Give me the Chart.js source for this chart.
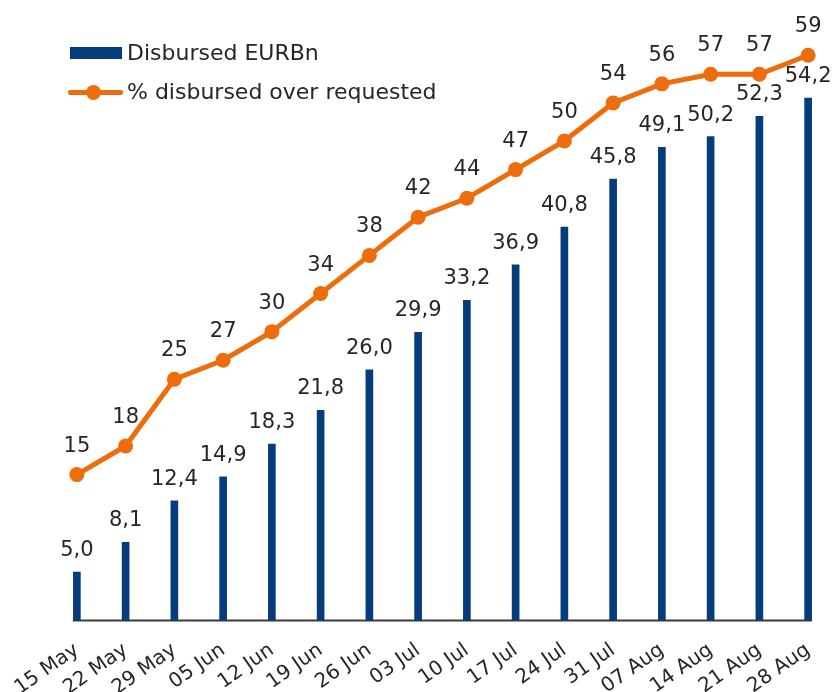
<!DOCTYPE html>
<html>
<head>
<meta charset="utf-8">
<script src="https://cdn.jsdelivr.net/npm/chart.js@4.4.1/dist/chart.umd.min.js"></script>
<style>
  html, body { margin: 0; padding: 0; background: #fff; }
  #wrap { position: relative; width: 840px; height: 692px; }
  #legend { position: absolute; left: 68px; top: 38px; font-family: "DejaVu Sans", sans-serif; font-size: 22px; color: #262626; }
  .row { position: relative; height: 39px; line-height: 30px; padding-left: 59px; white-space: nowrap; }
  .box { position: absolute; left: 2px; top: 9px; width: 52px; height: 12px; background: #043c7c; }
  .ln { position: absolute; left: 0; top: 13px; width: 55px; height: 5px; background: #ed6c0c; border-radius: 2px; }
  .dot { position: absolute; left: 18px; top: 8px; width: 15px; height: 15px; border-radius: 50%; background: #ed6c0c; }
</style>
</head>
<body>
<div id="wrap">
  <canvas id="chart" width="840" height="692"></canvas>
  <div id="legend">
    <div class="row"><span class="box"></span>Disbursed EURBn</div>
    <div class="row"><span class="ln"></span><span class="dot"></span>% disbursed over requested</div>
  </div>
</div>
<script>
const weeks = ['15 May', '22 May', '29 May', '05 Jun', '12 Jun', '19 Jun', '26 Jun', '03 Jul',
               '10 Jul', '17 Jul', '24 Jul', '31 Jul', '07 Aug', '14 Aug', '21 Aug', '28 Aug'];
const disbursed = [5.0, 8.1, 12.4, 14.9, 18.3, 21.8, 26.0, 29.9, 33.2, 36.9, 40.8, 45.8, 49.1, 50.2, 52.3, 54.2];
const pctRequested = [15, 18, 25, 27, 30, 34, 38, 42, 44, 47, 50, 54, 56, 57, 57, 59];

const NAVY = '#043c7c';
const ORANGE = '#ed6c0c';
const TEXT = '#262626';
const FONT = '"DejaVu Sans", sans-serif';

// value labels above bars and points
const valueLabels = {
  id: 'valueLabels',
  afterDatasetsDraw(chart) {
    const ctx = chart.ctx;
    ctx.save();
    ctx.fillStyle = TEXT;
    ctx.font = '21px ' + FONT;
    ctx.textAlign = 'center';
    ctx.textBaseline = 'alphabetic';
    chart.data.datasets.forEach((ds, i) => {
      const meta = chart.getDatasetMeta(i);
      meta.data.forEach((el, j) => {
        const v = ds.data[j];
        if (ds.type === 'line') {
          ctx.fillText(String(v), el.x, el.y - 23);
        } else {
          ctx.fillText(v.toFixed(1).replace('.', ','), el.x, el.y - 16);
        }
      });
    });
    ctx.restore();
  }
};

// baseline under the bars, from first bar to last bar
const baseLine = {
  id: 'baseLine',
  beforeDatasetsDraw(chart) {
    const bars = chart.getDatasetMeta(1).data;
    if (!bars.length) return;
    const ctx = chart.ctx;
    const y = chart.chartArea.bottom;
    ctx.save();
    ctx.strokeStyle = '#3a3a3a';
    ctx.lineWidth = 2;
    ctx.beginPath();
    ctx.moveTo(bars[0].x - 4, y);
    ctx.lineTo(bars[bars.length - 1].x + 4, y);
    ctx.stroke();
    ctx.restore();
  }
};

new Chart(document.getElementById('chart'), {
  data: {
    labels: weeks,
    datasets: [
      {
        type: 'line',
        label: '% disbursed over requested',
        data: pctRequested,
        yAxisID: 'y1',
        borderColor: ORANGE,
        backgroundColor: ORANGE,
        borderWidth: 5,
        pointRadius: 7.5,
        pointHoverRadius: 7.5,
        pointBorderWidth: 0,
        tension: 0,
        order: 0
      },
      {
        type: 'bar',
        label: 'Disbursed EURBn',
        data: disbursed,
        yAxisID: 'y',
        backgroundColor: NAVY,
        barThickness: 7,
        order: 1
      }
    ]
  },
  plugins: [baseLine, valueLabels],
  options: {
    responsive: false,
    animation: false,
    layout: { padding: { left: 52.5, right: 3.5, top: 20, bottom: -26 } },
    plugins: {
      legend: { display: false },
      tooltip: { enabled: false }
    },
    scales: {
      x: {
        grid: { display: false, drawTicks: false },
        border: { display: false },
        afterFit(scale) {
          // let the rotated labels overflow instead of shrinking the plot
          scale.paddingLeft = 0;
          scale.paddingRight = 0;
        },
        ticks: {
          color: TEXT,
          font: { family: FONT, size: 20 },
          minRotation: 35,
          maxRotation: 35,
          padding: 18,
          autoSkip: false
        }
      },
      y: { display: false, min: 0, max: 62.3 },
      y1: { display: false, min: -0.3, max: 62.7 }
    }
  }
});
</script>
</body>
</html>
